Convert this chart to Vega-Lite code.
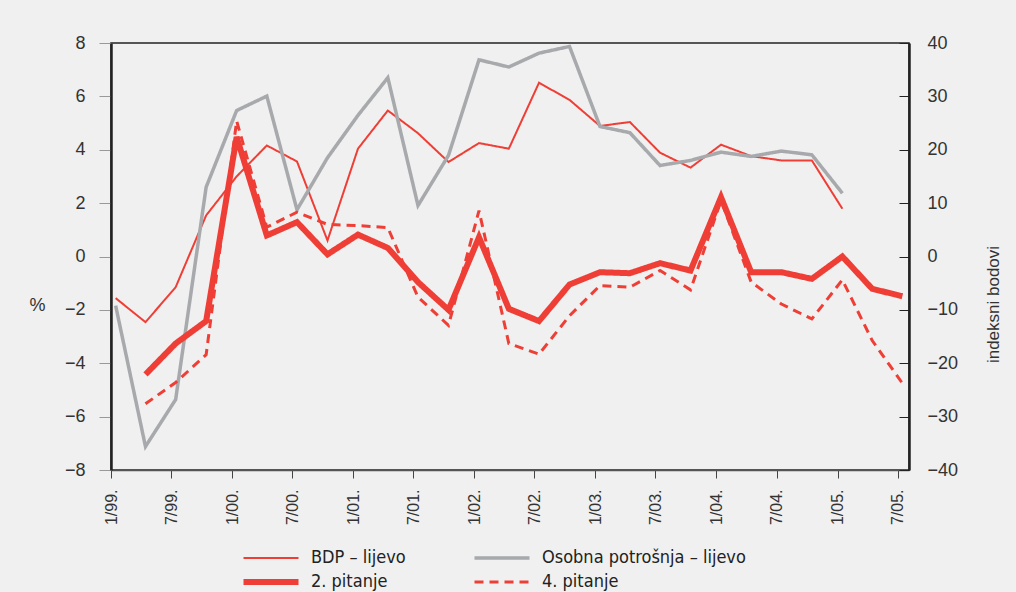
{
  "$schema": "https://vega.github.io/schema/vega-lite/v6.json",
  "width": 798,
  "height": 427,
  "autosize": {"type": "none"},
  "padding": {"left": 111, "top": 43, "right": 107, "bottom": 122},
  "background": "#eff0ef",
  "config": {
    "view": {"stroke": "#222222", "strokeWidth": 1.5},
    "font": "Liberation Sans",
    "axis": {"grid": false, "labelFont": "Liberation Sans", "labelColor": "#333333", "titleFont": "Liberation Sans", "titleColor": "#333333", "titleFontWeight": "normal"},
    "legend": {"orient": "none", "legendX": 151, "legendY": 506, "columns": 2, "columnPadding": 61, "rowPadding": 3, "padding": 0, "labelFont": "Liberation Sans Narrow, DejaVu Sans Condensed, sans-serif", "labelFontSize": 18, "labelColor": "#222222", "labelOffset": 31, "labelLimit": 400}
  },
  "data": {
    "values": [
      {"d": "1999-01-15", "s": "BDP – lijevo", "v": -1.56},
      {"d": "1999-04-15", "s": "BDP – lijevo", "v": -2.46},
      {"d": "1999-07-15", "s": "BDP – lijevo", "v": -1.15},
      {"d": "1999-10-15", "s": "BDP – lijevo", "v": 1.54},
      {"d": "2000-01-15", "s": "BDP – lijevo", "v": 3.0},
      {"d": "2000-04-15", "s": "BDP – lijevo", "v": 4.16},
      {"d": "2000-07-15", "s": "BDP – lijevo", "v": 3.56},
      {"d": "2000-10-15", "s": "BDP – lijevo", "v": 0.6},
      {"d": "2001-01-15", "s": "BDP – lijevo", "v": 4.04},
      {"d": "2001-04-15", "s": "BDP – lijevo", "v": 5.47},
      {"d": "2001-07-15", "s": "BDP – lijevo", "v": 4.62},
      {"d": "2001-10-15", "s": "BDP – lijevo", "v": 3.54},
      {"d": "2002-01-15", "s": "BDP – lijevo", "v": 4.25},
      {"d": "2002-04-15", "s": "BDP – lijevo", "v": 4.04},
      {"d": "2002-07-15", "s": "BDP – lijevo", "v": 6.51},
      {"d": "2002-10-15", "s": "BDP – lijevo", "v": 5.87},
      {"d": "2003-01-15", "s": "BDP – lijevo", "v": 4.89},
      {"d": "2003-04-15", "s": "BDP – lijevo", "v": 5.04},
      {"d": "2003-07-15", "s": "BDP – lijevo", "v": 3.89},
      {"d": "2003-10-15", "s": "BDP – lijevo", "v": 3.33},
      {"d": "2004-01-15", "s": "BDP – lijevo", "v": 4.19},
      {"d": "2004-04-15", "s": "BDP – lijevo", "v": 3.76},
      {"d": "2004-07-15", "s": "BDP – lijevo", "v": 3.6},
      {"d": "2004-10-15", "s": "BDP – lijevo", "v": 3.6},
      {"d": "2005-01-15", "s": "BDP – lijevo", "v": 1.79},
      {"d": "1999-01-15", "s": "Osobna potrošnja – lijevo", "v": -1.84},
      {"d": "1999-04-15", "s": "Osobna potrošnja – lijevo", "v": -7.12},
      {"d": "1999-07-15", "s": "Osobna potrošnja – lijevo", "v": -5.36},
      {"d": "1999-10-15", "s": "Osobna potrošnja – lijevo", "v": 2.6},
      {"d": "2000-01-15", "s": "Osobna potrošnja – lijevo", "v": 5.47},
      {"d": "2000-04-15", "s": "Osobna potrošnja – lijevo", "v": 6.01},
      {"d": "2000-07-15", "s": "Osobna potrošnja – lijevo", "v": 1.75},
      {"d": "2000-10-15", "s": "Osobna potrošnja – lijevo", "v": 3.7},
      {"d": "2001-01-15", "s": "Osobna potrošnja – lijevo", "v": 5.29},
      {"d": "2001-04-15", "s": "Osobna potrošnja – lijevo", "v": 6.7},
      {"d": "2001-07-15", "s": "Osobna potrošnja – lijevo", "v": 1.91},
      {"d": "2001-10-15", "s": "Osobna potrošnja – lijevo", "v": 3.79},
      {"d": "2002-01-15", "s": "Osobna potrošnja – lijevo", "v": 7.37},
      {"d": "2002-04-15", "s": "Osobna potrošnja – lijevo", "v": 7.1},
      {"d": "2002-07-15", "s": "Osobna potrošnja – lijevo", "v": 7.62},
      {"d": "2002-10-15", "s": "Osobna potrošnja – lijevo", "v": 7.87},
      {"d": "2003-01-15", "s": "Osobna potrošnja – lijevo", "v": 4.87},
      {"d": "2003-04-15", "s": "Osobna potrošnja – lijevo", "v": 4.64},
      {"d": "2003-07-15", "s": "Osobna potrošnja – lijevo", "v": 3.41},
      {"d": "2003-10-15", "s": "Osobna potrošnja – lijevo", "v": 3.6},
      {"d": "2004-01-15", "s": "Osobna potrošnja – lijevo", "v": 3.91},
      {"d": "2004-04-15", "s": "Osobna potrošnja – lijevo", "v": 3.75},
      {"d": "2004-07-15", "s": "Osobna potrošnja – lijevo", "v": 3.95},
      {"d": "2004-10-15", "s": "Osobna potrošnja – lijevo", "v": 3.81},
      {"d": "2005-01-15", "s": "Osobna potrošnja – lijevo", "v": 2.37},
      {"d": "1999-04-15", "s": "2. pitanje", "v": -22.1},
      {"d": "1999-07-15", "s": "2. pitanje", "v": -16.3},
      {"d": "1999-10-15", "s": "2. pitanje", "v": -12.1},
      {"d": "2000-01-15", "s": "2. pitanje", "v": 22.4},
      {"d": "2000-04-15", "s": "2. pitanje", "v": 3.94},
      {"d": "2000-07-15", "s": "2. pitanje", "v": 6.44},
      {"d": "2000-10-15", "s": "2. pitanje", "v": 0.4},
      {"d": "2001-01-15", "s": "2. pitanje", "v": 4.1},
      {"d": "2001-04-15", "s": "2. pitanje", "v": 1.6},
      {"d": "2001-07-15", "s": "2. pitanje", "v": -4.8},
      {"d": "2001-10-15", "s": "2. pitanje", "v": -10.0},
      {"d": "2002-01-15", "s": "2. pitanje", "v": 3.6},
      {"d": "2002-04-15", "s": "2. pitanje", "v": -9.8},
      {"d": "2002-07-15", "s": "2. pitanje", "v": -12.1},
      {"d": "2002-10-15", "s": "2. pitanje", "v": -5.25},
      {"d": "2003-01-15", "s": "2. pitanje", "v": -2.94},
      {"d": "2003-04-15", "s": "2. pitanje", "v": -3.13},
      {"d": "2003-07-15", "s": "2. pitanje", "v": -1.25},
      {"d": "2003-10-15", "s": "2. pitanje", "v": -2.63},
      {"d": "2004-01-15", "s": "2. pitanje", "v": 11.1},
      {"d": "2004-04-15", "s": "2. pitanje", "v": -2.94},
      {"d": "2004-07-15", "s": "2. pitanje", "v": -2.94},
      {"d": "2004-10-15", "s": "2. pitanje", "v": -4.19},
      {"d": "2005-01-15", "s": "2. pitanje", "v": 0.0},
      {"d": "2005-04-15", "s": "2. pitanje", "v": -6.06},
      {"d": "2005-07-15", "s": "2. pitanje", "v": -7.44},
      {"d": "1999-04-15", "s": "4. pitanje", "v": -27.6},
      {"d": "1999-07-15", "s": "4. pitanje", "v": -23.6},
      {"d": "1999-10-15", "s": "4. pitanje", "v": -18.4},
      {"d": "2000-01-15", "s": "4. pitanje", "v": 25.4},
      {"d": "2000-04-15", "s": "4. pitanje", "v": 5.5},
      {"d": "2000-07-15", "s": "4. pitanje", "v": 8.3},
      {"d": "2000-10-15", "s": "4. pitanje", "v": 6.0},
      {"d": "2001-01-15", "s": "4. pitanje", "v": 5.8},
      {"d": "2001-04-15", "s": "4. pitanje", "v": 5.4},
      {"d": "2001-07-15", "s": "4. pitanje", "v": -7.6},
      {"d": "2001-10-15", "s": "4. pitanje", "v": -12.9},
      {"d": "2002-01-15", "s": "4. pitanje", "v": 8.6},
      {"d": "2002-04-15", "s": "4. pitanje", "v": -16.3},
      {"d": "2002-07-15", "s": "4. pitanje", "v": -18.3},
      {"d": "2002-10-15", "s": "4. pitanje", "v": -11.1},
      {"d": "2003-01-15", "s": "4. pitanje", "v": -5.44},
      {"d": "2003-04-15", "s": "4. pitanje", "v": -5.75},
      {"d": "2003-07-15", "s": "4. pitanje", "v": -2.63},
      {"d": "2003-10-15", "s": "4. pitanje", "v": -6.25},
      {"d": "2004-01-15", "s": "4. pitanje", "v": 10.5},
      {"d": "2004-04-15", "s": "4. pitanje", "v": -4.8},
      {"d": "2004-07-15", "s": "4. pitanje", "v": -8.9},
      {"d": "2004-10-15", "s": "4. pitanje", "v": -11.7},
      {"d": "2005-01-15", "s": "4. pitanje", "v": -4.38},
      {"d": "2005-04-15", "s": "4. pitanje", "v": -15.75},
      {"d": "2005-07-15", "s": "4. pitanje", "v": -23.75}
    ]
  },
  "encoding": {
    "x": {
      "field": "d", "type": "temporal", "title": null,
      "scale": {"type": "utc", "domain": [{"year": 1999, "month": 1, "date": 1, "utc": true}, {"year": 2005, "month": 8, "date": 4, "utc": true}]},
      "axis": {
        "values": [
          {"year": 1999, "month": 1, "date": 1, "utc": true}, {"year": 1999, "month": 7, "date": 1, "utc": true},
          {"year": 2000, "month": 1, "date": 1, "utc": true}, {"year": 2000, "month": 7, "date": 1, "utc": true},
          {"year": 2001, "month": 1, "date": 1, "utc": true}, {"year": 2001, "month": 7, "date": 1, "utc": true},
          {"year": 2002, "month": 1, "date": 1, "utc": true}, {"year": 2002, "month": 7, "date": 1, "utc": true},
          {"year": 2003, "month": 1, "date": 1, "utc": true}, {"year": 2003, "month": 7, "date": 1, "utc": true},
          {"year": 2004, "month": 1, "date": 1, "utc": true}, {"year": 2004, "month": 7, "date": 1, "utc": true},
          {"year": 2005, "month": 1, "date": 1, "utc": true}, {"year": 2005, "month": 7, "date": 1, "utc": true}
        ],
        "labelExpr": "utcFormat(datum.value, '%-m/%y.')",
        "labelAngle": 270, "labelFontSize": 16, "labelPadding": 11, "labelFlush": false, "labelOverlap": false,
        "tickSize": 8, "tickColor": "#444444", "domainColor": "#555555", "domainWidth": 1.5
      }
    },
    "color": {"field": "s", "type": "nominal", "title": null,
      "scale": {"domain": ["BDP – lijevo", "2. pitanje", "Osobna potrošnja – lijevo", "4. pitanje"], "range": ["#ef3e36", "#ef3e36", "#a7a9ac", "#ef3e36"]},
      "legend": {"symbolType": "M-5,0H5", "symbolSize": 121}},
    "strokeDash": {"field": "s", "type": "nominal", "title": null,
      "scale": {"domain": ["BDP – lijevo", "2. pitanje", "Osobna potrošnja – lijevo", "4. pitanje"], "range": [[1, 0], [1, 0], [1, 0], [9, 6]]},
      "legend": {"symbolType": "M-5,0H5", "symbolSize": 121}},
    "strokeWidth": {"field": "s", "type": "nominal", "title": null,
      "scale": {"type": "ordinal", "domain": ["BDP – lijevo", "2. pitanje", "Osobna potrošnja – lijevo", "4. pitanje"], "range": [2, 6, 3.5, 3]},
      "legend": {"symbolType": "M-5,0H5", "symbolSize": 121}}
  },
  "layer": [
    {
      "transform": [{"filter": "datum.s == 'BDP – lijevo' || datum.s == 'Osobna potrošnja – lijevo'"}],
      "mark": {"type": "line", "strokeJoin": "miter"},
      "encoding": {
        "y": {"field": "v", "type": "quantitative", "title": "%",
          "scale": {"domain": [-8, 8], "nice": false, "zero": false},
          "axis": {"values": [-8, -6, -4, -2, 0, 2, 4, 6, 8], "labelFontSize": 18, "labelPadding": 14, "tickSize": 12, "tickColor": "#999999", "domainColor": "#222222", "domainWidth": 2.5,
            "titleAngle": 0, "titleFontSize": 18, "titleX": -74, "titleY": 262, "titleAlign": "center", "titleBaseline": "middle"}}
      }
    },
    {
      "transform": [{"filter": "datum.s == '2. pitanje' || datum.s == '4. pitanje'"}],
      "mark": {"type": "line", "strokeJoin": "miter"},
      "encoding": {
        "y": {"field": "v", "type": "quantitative", "title": "indeksni bodovi",
          "scale": {"domain": [-40, 40], "nice": false, "zero": false},
          "axis": {"orient": "right", "values": [-40, -30, -20, -10, 0, 10, 20, 30, 40], "labelFontSize": 18, "labelPadding": 28, "tickSize": -10, "tickColor": "#222222", "domainColor": "#222222", "domainWidth": 2.5,
            "titleAngle": 270, "titleFontSize": 17, "titleX": 84, "titleY": 261, "titleAlign": "center", "titleBaseline": "middle"}}
      }
    }
  ],
  "resolve": {"scale": {"y": "independent"}}
}
